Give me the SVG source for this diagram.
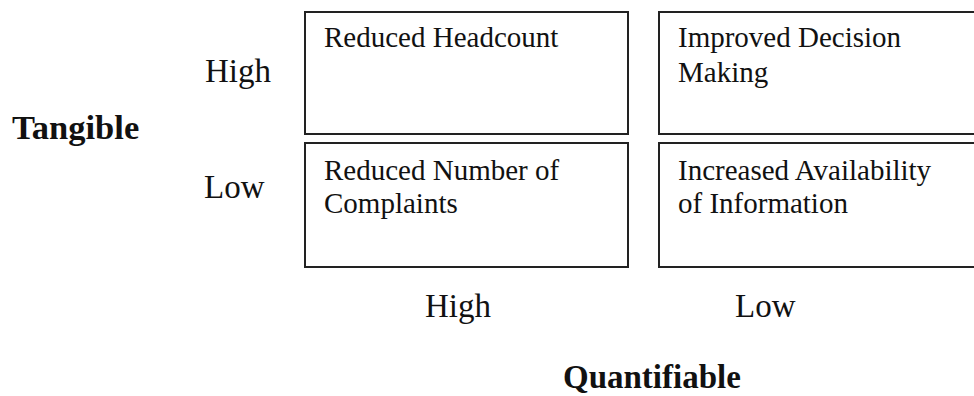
<svg xmlns="http://www.w3.org/2000/svg" width="974" height="396" viewBox="0 0 974 396">
<style>
.box{fill:#fff;stroke:#222;stroke-width:2}
.t{font-family:"Liberation Serif","Times New Roman",serif;font-size:29px;fill:#111}
.lab{font-family:"Liberation Serif","Times New Roman",serif;font-size:33px;fill:#111}
.axis{font-family:"Liberation Serif","Times New Roman",serif;font-size:33px;font-weight:bold;fill:#111}
</style>
<rect width="974" height="396" fill="#fff"/>
<g id="axis-labels">
<text class="axis" x="12" y="139" style="font-size:34.5px">Tangible</text>
<text class="lab" x="205" y="82">High</text>
<text class="lab" x="204" y="198">Low</text>
<text class="lab" x="425" y="317">High</text>
<text class="lab" x="735" y="317">Low</text>
<text class="axis" x="563" y="388">Quantifiable</text>
</g>
<g id="node-reduced-headcount">
<rect class="box" x="305" y="12" width="323" height="122"/>
<text class="t" x="324" y="47">Reduced Headcount</text>
</g>
<g id="node-improved-decision-making">
<rect class="box" x="659" y="12" width="330" height="122"/>
<text class="t" x="678" y="47">Improved Decision</text>
<text class="t" x="678" y="82">Making</text>
</g>
<g id="node-reduced-complaints">
<rect class="box" x="305" y="143" width="323" height="124"/>
<text class="t" x="324" y="180">Reduced Number of</text>
<text class="t" x="324" y="213">Complaints</text>
</g>
<g id="node-increased-availability">
<rect class="box" x="659" y="143" width="330" height="124"/>
<text class="t" x="678" y="180">Increased Availability</text>
<text class="t" x="678" y="213">of Information</text>
</g>
<g id="connectors"></g>
</svg>
